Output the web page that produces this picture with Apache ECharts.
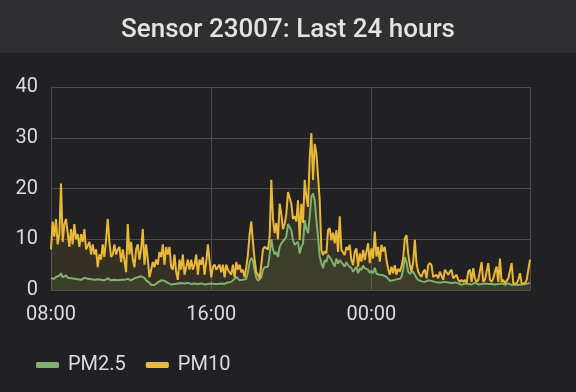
<!DOCTYPE html>
<html>
<head>
<meta charset="utf-8">
<script src="https://cdn.jsdelivr.net/npm/echarts@6/dist/echarts.min.js"></script>
<style>
html,body{margin:0;padding:0;background:#212124;}
#chart{width:576px;height:392px;}
</style>
</head>
<body>
<div id="chart"></div>
<script>
// Chart data (5-minute samples starting 08:00)
const titleText = "Sensor 23007: Last 24 hours";
const seriesNames = ["PM2.5", "PM10"];
const startHour = 8;          // 08:00
const stepMinutes = 5;
const xTickLabels = ["08:00", "16:00", "00:00"];
const yTicks = [0, 10, 20, 30, 40];

const pm25 = [
  2.3, 2.5, 2.2, 2.6, 2.4, 2.8, 3.3, 2.5, 2.7, 2.9,
  2.4, 2.6, 2.3, 2.5, 2.2, 2.4, 2.1, 2.3, 2.0, 2.2,
  2.4, 2.1, 2.2, 1.9, 2.1, 2.3, 2.0, 1.9, 2.1, 1.8,
  2.0, 2.2, 1.9, 2.0, 2.3, 2.1, 1.9, 1.8, 2.0, 2.2,
  1.9, 2.1, 2.0, 1.8, 2.0, 1.9, 2.2, 2.0, 1.9, 2.1,
  2.3, 2.1, 2.5, 2.3, 2.7, 3.0, 2.4, 1.9, 1.8, 1.4,
  1.0, 0.9, 1.0, 1.2, 1.5, 1.8, 1.9, 2.0, 1.8, 1.6,
  1.4, 1.2, 1.1, 1.0, 1.2, 1.1, 1.3, 1.2, 1.4, 1.5,
  1.3, 1.2, 1.4, 1.3, 1.2, 1.4, 1.3, 1.1, 1.2, 1.4,
  1.3, 1.2, 1.1, 1.3, 1.2, 1.4, 1.3, 1.1, 1.2, 1.3,
  1.2, 1.1, 1.3, 1.4, 1.2, 1.3, 1.5, 1.4, 1.6, 1.8,
  2.2, 2.6, 2.3, 1.9, 1.8, 2.0, 1.9, 2.2, 3.5, 5.5,
  6.3, 5.8, 3.9, 2.4, 1.8, 1.6, 2.5, 4.0, 4.5, 4.3,
  4.6, 7.0, 10.0, 8.0, 7.0, 7.5, 6.5, 8.5, 9.2, 9.0,
  10.0, 10.5, 13.0, 13.2, 11.8, 9.8, 8.9, 9.2, 9.5, 7.2,
  8.5, 9.2, 13.8, 12.0, 11.2, 14.5, 18.4, 19.0, 17.7, 13.8,
  10.5, 6.6, 5.3, 4.3, 5.9, 5.5, 6.9, 6.5, 5.9, 5.9,
  4.6, 6.2, 5.2, 5.9, 5.5, 5.2, 4.6, 5.5, 4.9, 5.2,
  4.3, 3.6, 3.9, 4.6, 3.3, 4.3, 3.9, 4.8, 4.3, 4.6,
  4.0, 3.4, 3.8, 3.3, 4.4, 3.2, 3.4, 3.0, 3.3, 2.9,
  3.0, 2.6, 2.2, 1.8, 1.6, 1.9, 1.8, 2.1, 1.9, 2.2,
  2.6, 4.0, 6.5, 5.5, 3.6, 3.2, 3.2, 3.6, 3.0, 2.4,
  2.0, 1.9, 1.7, 1.8, 1.6, 1.7, 1.9, 2.0, 1.8, 1.5,
  1.6, 1.4, 1.5, 1.7, 1.5, 1.4, 1.6, 1.8, 1.5, 1.3,
  1.4, 1.3, 1.5, 1.2, 1.3, 1.2, 1.0, 1.1, 1.3, 1.2,
  1.2, 1.3, 1.1, 1.2, 1.4, 1.2, 1.1, 1.3, 1.2, 1.4,
  1.3, 1.1, 1.2, 1.0, 1.2, 1.3, 1.1, 1.4, 1.2, 1.1,
  1.3, 1.2, 1.0, 1.1, 1.3, 1.2, 1.0, 0.9, 1.1, 1.2,
  1.0, 1.3, 1.1, 1.4, 1.2, 1.5, 1.3, 1.4
];

const pm10 = [
  8, 13.5, 10.5, 14, 9, 11, 21, 9.5, 13, 14,
  14, 8.5, 12, 9, 13, 10, 11, 8.5, 11, 9.5,
  12, 8, 8, 9.5, 7, 9, 7, 8, 4.5, 7,
  6, 9, 6.5, 10, 14, 9.5, 6.5, 7, 9, 7,
  8, 8.5, 5.5, 8, 8, 3.5, 13, 7, 9.5, 6,
  4.5, 8, 9, 6, 8, 12, 5, 9, 6, 2.5,
  4, 5.5, 4.5, 6, 5, 7.5, 6.5, 9, 5, 8.5,
  7, 8.5, 4.5, 4, 7, 3.5, 2, 6, 4, 7,
  3, 4.5, 6, 4, 6, 4, 5, 7, 3, 6,
  5, 6.5, 3, 5.5, 9, 9, 2.5, 4.5, 5, 4,
  4.5, 5, 3.5, 5, 2.5, 5, 4, 4, 3, 5,
  2.5, 5.5, 4, 5, 3.5, 4, 2.5, 4.5, 7, 11,
  13.5, 9.5, 6, 3.5, 3, 2.3, 5, 8, 8.5, 8.8,
  8, 10.5, 21.7, 14, 11.2, 13.2, 10, 17, 15, 12,
  13, 15, 19.3, 19.5, 17, 14, 14.5, 13.5, 17.7, 9.8,
  17, 13.2, 21.7, 18.4, 16.4, 26, 30.9, 21.7, 28.8, 27,
  22.4, 17.7, 7.9, 6.9, 7.6, 7.2, 11.8, 12.2, 9.8, 11.3,
  9.2, 11.8, 7.5, 14.5, 7.9, 8.2, 6.9, 8.5, 7.9, 8.9,
  5.9, 4.9, 7.6, 8.2, 4.6, 7.2, 5.6, 7.9, 5.9, 7.6,
  9.2, 5.3, 8.2, 6.2, 11.5, 6.6, 8.5, 5.6, 8.9, 7.6,
  8.5, 5.9, 4.2, 3.0, 4.6, 3.3, 4.9, 3.0, 4.2, 3.6,
  4.6, 6.2, 10.2, 10.8, 7.2, 5, 3.6, 5.6, 9.9, 5.3,
  3.6, 3.0, 2.6, 3.6, 4.0, 2.3, 4.9, 5.3, 4.9, 2.6,
  2.3, 3.0, 2.3, 3.6, 3.3, 2.0, 4.0, 4.3, 3.0, 3.6,
  4.0, 2.3, 2.6, 3.0, 2.0, 1.6, 2.0, 1.6, 2.0, 1.3,
  3.6, 4.0, 1.6, 4.3, 2.3, 1.6, 2.0, 2.0, 5.5, 1.6,
  2.0, 2.3, 5.3, 2.0, 1.6, 2.3, 3.6, 4.6, 1.6, 6.2,
  1.6, 2.0, 1.3, 1.6, 2.3, 2.0, 5.3, 1.3, 1.3, 1.3,
  2.0, 3.3, 1.3, 1.6, 1.3, 2.0, 2.0, 6.0
];

const colors = ["#7EB26D", "#EAB839"];

function toPairs(arr) {
  return arr.map((v, i) => [i * stepMinutes, v]);
}
const lastMinute = (pm10.length - 1) * stepMinutes;

const chart = echarts.init(document.getElementById('chart'), null, {renderer: 'canvas'});
const labelFont = {color: '#dcdcde', fontSize: 20, fontFamily: 'Roboto'};
const option = {
  backgroundColor: '#212124',
  animation: false,
  graphic: [{
    type: 'rect', left: 0, top: 0, z: -10,
    shape: {width: 576, height: 53},
    style: {fill: '#2f2f32'}
  }],
  title: {
    text: titleText, left: 'center', top: 12,
    textStyle: {color: '#e3e3e3', fontSize: 26, fontWeight: 500, fontFamily: 'Roboto'}
  },
  legend: {
    left: 31, top: 350,
    icon: 'roundRect', itemWidth: 23, itemHeight: 6, itemGap: 20,
    textStyle: Object.assign({}, labelFont, {padding: [0, 0, 0, 4]}),
    data: seriesNames
  },
  grid: {left: 51, right: 46, top: 87, bottom: 102, containLabel: false},
  xAxis: {
    type: 'value', min: 0, max: lastMinute, interval: 480,
    axisLine: {show: true, lineStyle: {color: '#4d4d50', width: 1}},
    axisTick: {show: false},
    splitLine: {show: true, lineStyle: {color: '#4d4d50', width: 1}},
    axisLabel: Object.assign({}, labelFont, {
      margin: 15,
      formatter: function (v) { return xTickLabels[Math.round(v / 480)] || ''; }
    })
  },
  yAxis: {
    type: 'value', min: yTicks[0], max: yTicks[yTicks.length - 1], interval: 10,
    axisLine: {show: true, lineStyle: {color: '#4d4d50', width: 1}},
    axisTick: {show: false},
    splitLine: {show: true, lineStyle: {color: '#4d4d50', width: 1}},
    axisLabel: Object.assign({}, labelFont, {margin: 13})
  },
  series: [
    {
      name: seriesNames[0], type: 'line', data: toPairs(pm25),
      showSymbol: false, symbol: 'none', color: colors[0],
      lineStyle: {width: 2, color: colors[0]},
      areaStyle: {color: colors[0], opacity: 0.1}
    },
    {
      name: seriesNames[1], type: 'line', data: toPairs(pm10),
      showSymbol: false, symbol: 'none', color: colors[1],
      lineStyle: {width: 2, color: colors[1]},
      areaStyle: {color: colors[1], opacity: 0.1}
    }
  ]
};
chart.setOption(option);
</script>
</body>
</html>
